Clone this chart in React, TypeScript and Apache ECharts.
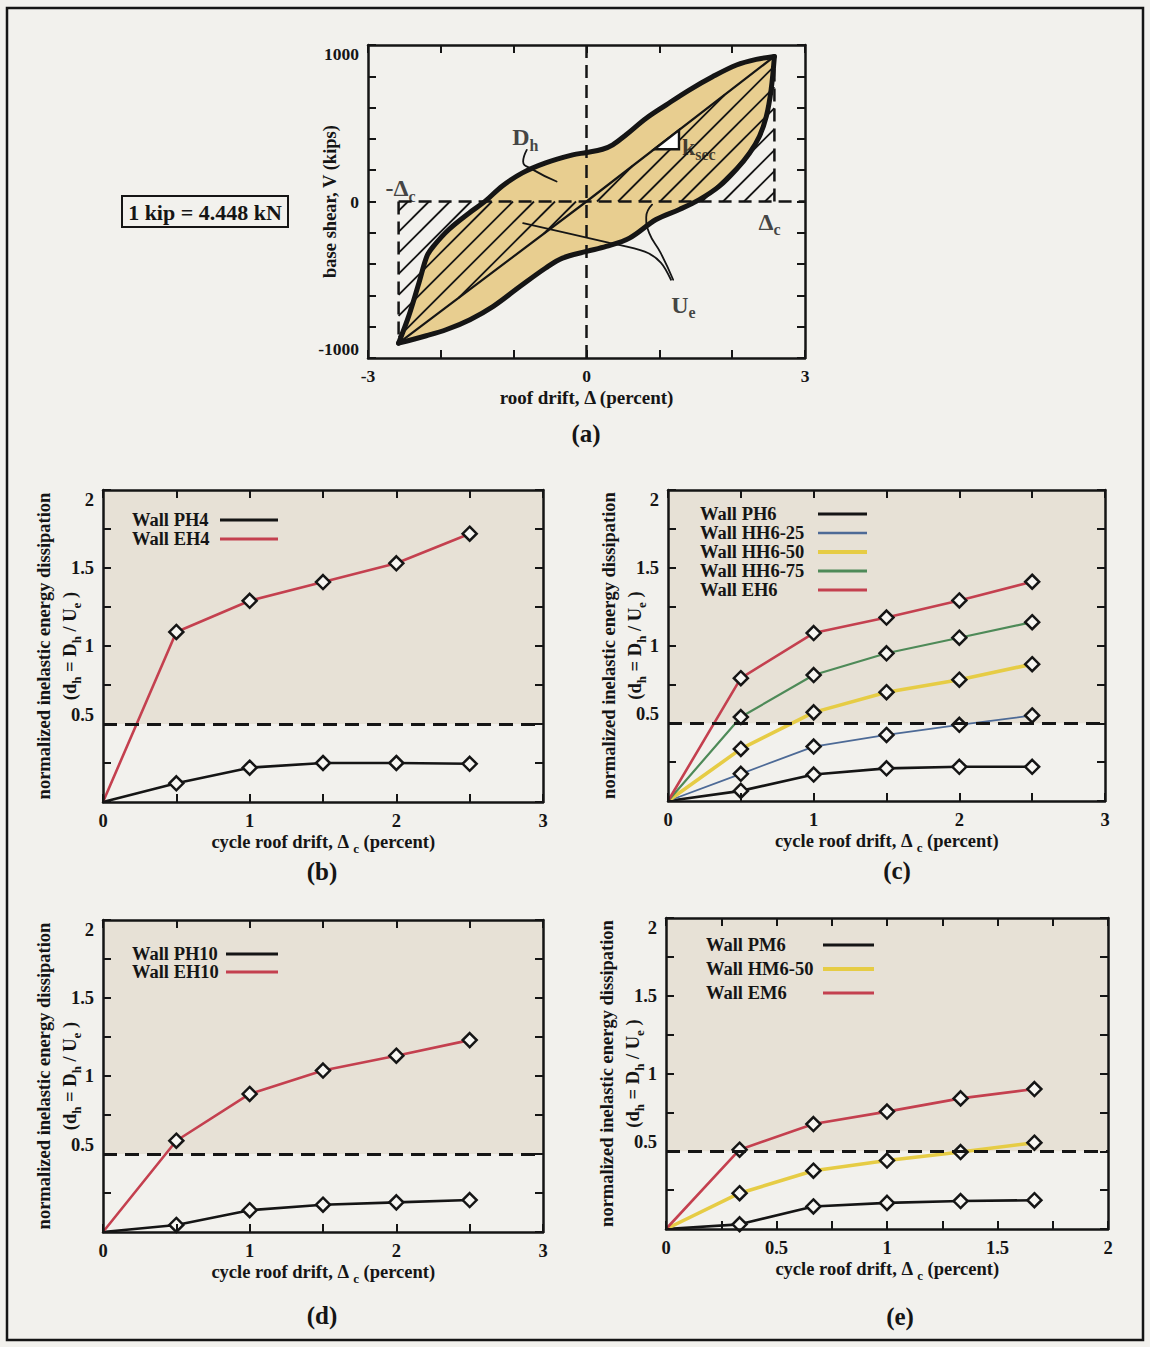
import React, { useEffect, useRef } from 'react';
import * as echarts from 'echarts';

const SERIF = '"Liberation Serif", "DejaVu Serif", serif';
const INK = '#151515';
const PAGE_BG = '#f2f1ed';
const BAND_BG = '#e7e1d6';
const LOOP_FILL = '#e8ce90';
const MARKER_FILL = '#f7f6f2';
const RED = '#c4404f';
const BLUE = '#4d6a96';
const YELLOW = '#e6cc45';
const GREEN = '#4e8a58';

// ---------- panel (a): idealised hysteresis loop (drift %, shear kips) ----------
const driftLabelsA = [-3, 0, 3];
const shearLabelsA = [-1000, 0, 1000];
const cycleDrift = 2.58;
const loopUpper: number[][] = [
  [-2.58, -905], [-2.44, -731], [-2.3, -519], [-2.19, -348], [-2.1, -285], [-1.89, -179],
  [-1.61, -73], [-1.39, 2], [-1.16, 98], [-0.88, 183], [-0.56, 247], [-0.19, 298], [0, 313],
  [0.22, 334], [0.36, 362], [0.54, 425], [0.82, 532], [1.09, 616], [1.41, 712], [1.73, 797],
  [2.06, 872], [2.33, 908], [2.58, 927],
];
const loopLower: number[][] = [
  [2.58, 927], [2.535, 715], [2.47, 545], [2.375, 417], [2.24, 310], [2.055, 204], [1.825, 98],
  [1.55, 12], [1.275, -51], [0.955, -115], [0.59, -234], [0.27, -287], [0, -319], [-0.33, -362],
  [-0.56, -425], [-0.91, -542], [-1.28, -670], [-1.6, -755], [-1.92, -818], [-2.2, -858], [-2.58, -905],
];
const dhLeader = [[-0.82, 330], [-0.87, 255], [-0.75, 207], [-0.41, 128]];
const ueLeaderLeft = [[1.16, -500], [1.02, -390], [0.8, -320], [0.3, -262], [-0.87, -138]];
const ueLeaderRight = [[1.19, -500], [1.02, -330], [0.86, -200], [0.82, -100], [0.9, -20]];
const secantStep = [[0.93, 334], [1.27, 334], [1.27, 456]];

// ---------- panels (b)-(e): normalized dissipation vs cycle drift ----------
const driftB = [0, 0.5, 1, 1.5, 2, 2.5];
const wallPH4 = [0, 0.12, 0.22, 0.25, 0.25, 0.245];
const wallEH4 = [0, 1.09, 1.29, 1.41, 1.53, 1.72];

const driftC = [0, 0.5, 1, 1.5, 2, 2.5];
const wallPH6 = [0, 0.065, 0.17, 0.21, 0.22, 0.22];
const wallHH6_25 = [0, 0.175, 0.35, 0.425, 0.49, 0.55];
const wallHH6_50 = [0, 0.335, 0.57, 0.7, 0.78, 0.88];
const wallHH6_75 = [0, 0.54, 0.81, 0.95, 1.05, 1.15];
const wallEH6 = [0, 0.79, 1.08, 1.18, 1.29, 1.41];

const driftD = [0, 0.5, 1, 1.5, 2, 2.5];
const wallPH10 = [0, 0.045, 0.14, 0.175, 0.19, 0.205];
const wallEH10 = [0, 0.585, 0.885, 1.035, 1.13, 1.23];

const driftE = [0, 0.333, 0.667, 1, 1.333, 1.667];
const wallPM6 = [0, 0.03, 0.145, 0.168, 0.18, 0.185];
const wallHM6_50 = [0, 0.23, 0.375, 0.44, 0.495, 0.555];
const wallEM6 = [0, 0.51, 0.675, 0.755, 0.84, 0.9];

const driftLabels3 = [0, 1, 2, 3];
const driftLabels2 = [0, 0.5, 1, 1.5, 2];
const ratioLabels = [0.5, 1, 1.5, 2];
const threshold = 0.5;

// ---------- layout ----------
const grids = [
  { left: 368, top: 45, width: 437, height: 313 },
  { left: 103, top: 490, width: 440, height: 312 },
  { left: 668, top: 490, width: 437, height: 311 },
  { left: 103, top: 920, width: 440, height: 312 },
  { left: 666, top: 918, width: 442, height: 311 },
];

function richFor(size: number, sub: number, lh: number) {
  return {
    t: { fontFamily: SERIF, fontWeight: 'bold', fontSize: size, color: INK, lineHeight: lh },
    s: { fontFamily: SERIF, fontWeight: 'bold', fontSize: sub, color: INK, lineHeight: sub, verticalAlign: 'bottom' },
  };
}
const richAxis = richFor(18.5, 13, 26);
const richBig = richFor(24, 16, 32);

const axisLine = { show: true, onZero: false, lineStyle: { color: INK, width: 2.5 } };
const tickStyle = { show: true, inside: true, length: 8, lineStyle: { color: INK, width: 2 } };

function tickValues(min: number, max: number, step: number) {
  const out: number[] = [];
  const n = Math.round((max - min) / step);
  for (let i = 0; i <= n; i++) out.push(Math.round((min + i * step) * 1e6) / 1e6);
  return out;
}

function labelFont(size: number) {
  return { fontFamily: SERIF, fontWeight: 'bold', fontSize: size, color: INK };
}

function xAxes(g: number, min: number, max: number, interval: number, labels: number[], name: string, gap: number, lblSize: number, nameSize: number) {
  const ticks = tickValues(min, max, interval);
  return [
    {
      type: 'value', gridIndex: g, min, max, interval, position: 'bottom', z: 20,
      axisLine, axisTick: { ...tickStyle, customValues: ticks }, splitLine: { show: false },
      axisLabel: { ...labelFont(lblSize), margin: 9, customValues: labels, formatter: (v: number) => String(v) },
      name, nameLocation: 'middle', nameGap: gap, nameMoveOverlap: false,
      nameTextStyle: { ...labelFont(nameSize), rich: richAxis },
    },
    {
      type: 'value', gridIndex: g, min, max, interval, position: 'top', z: 20,
      axisLine, axisTick: { ...tickStyle, customValues: ticks }, splitLine: { show: false }, axisLabel: { show: false },
    },
  ];
}

function yAxes(g: number, min: number, max: number, interval: number, labels: number[], name: string, gap: number, lblSize: number, nameSize: number) {
  const ticks = tickValues(min, max, interval);
  return [
    {
      type: 'value', gridIndex: g, min, max, interval, position: 'left', z: 20,
      axisLine, axisTick: { ...tickStyle, customValues: ticks }, splitLine: { show: false },
      axisLabel: {
        ...labelFont(lblSize), margin: 9, customValues: labels, formatter: (v: number) => String(v),
        verticalAlignMaxLabel: 'top', verticalAlignMinLabel: 'bottom',
      },
      name, nameLocation: 'middle', nameGap: gap, nameRotate: 90, nameMoveOverlap: false,
      nameTextStyle: { ...labelFont(nameSize), rich: richAxis },
    },
    {
      type: 'value', gridIndex: g, min, max, interval, position: 'right', z: 20,
      axisLine, axisTick: { ...tickStyle, customValues: ticks }, splitLine: { show: false }, axisLabel: { show: false },
    },
  ];
}

const ratioName =
  '{t|normalized inelastic energy dissipation}\n{t|(d}{s|h}{t| = D}{s|h}{t| / U}{s|e}{t| )}';
const cycleName = '{t|cycle roof drift, Δ }{s|c}{t| (percent)}';

type WallSpec = { name: string; values: number[]; color: string; width: number };

function wallSeries(g: number, drift: number[], w: WallSpec, withBand: boolean) {
  const s: any = {
    type: 'line', name: w.name, xAxisIndex: g * 2, yAxisIndex: g * 2,
    data: drift.map((x, i) => (i === 0 ? { value: [x, w.values[i]], symbol: 'none' } : [x, w.values[i]])),
    symbol: 'diamond', symbolSize: 14, showSymbol: true,
    lineStyle: { color: w.color, width: w.width },
    itemStyle: { color: MARKER_FILL, borderColor: INK, borderWidth: 2.5 },
    z: 3, silent: true,
  };
  if (withBand) {
    s.markArea = {
      silent: true, itemStyle: { color: BAND_BG },
      data: [[{ yAxis: threshold }, { yAxis: 2 }]],
    };
    s.markLine = {
      silent: true, symbol: 'none', label: { show: false },
      lineStyle: { color: INK, type: [14, 8], width: 3 },
      data: [{ yAxis: threshold }],
    };
  }
  return s;
}

const panelB: WallSpec[] = [
  { name: 'Wall PH4', values: wallPH4, color: INK, width: 2.6 },
  { name: 'Wall EH4', values: wallEH4, color: RED, width: 2.6 },
];
const panelC: WallSpec[] = [
  { name: 'Wall PH6', values: wallPH6, color: INK, width: 2.6 },
  { name: 'Wall HH6-25', values: wallHH6_25, color: BLUE, width: 1.8 },
  { name: 'Wall HH6-50', values: wallHH6_50, color: YELLOW, width: 3.6 },
  { name: 'Wall HH6-75', values: wallHH6_75, color: GREEN, width: 2.2 },
  { name: 'Wall EH6', values: wallEH6, color: RED, width: 2.6 },
];
const panelD: WallSpec[] = [
  { name: 'Wall PH10', values: wallPH10, color: INK, width: 2.6 },
  { name: 'Wall EH10', values: wallEH10, color: RED, width: 2.6 },
];
const panelE: WallSpec[] = [
  { name: 'Wall PM6', values: wallPM6, color: INK, width: 2.6 },
  { name: 'Wall HM6-50', values: wallHM6_50, color: YELLOW, width: 3.6 },
  { name: 'Wall EM6', values: wallEM6, color: RED, width: 2.6 },
];

function legendGraphics(specs: WallSpec[], x0: number, lx1: number, lx2: number, y0: number, gap: number) {
  const out: any[] = [];
  specs.forEach((w, i) => {
    const y = y0 + i * gap;
    out.push({
      type: 'text', x: x0, y, silent: true, z: 100,
      style: {
        text: w.name, fill: INK, font: `bold 18.5px ${SERIF}`,
        textAlign: 'left', textVerticalAlign: 'middle', align: 'left', verticalAlign: 'middle',
      },
    });
    out.push({
      type: 'line', silent: true, z: 100,
      shape: { x1: lx1, y1: y, x2: lx2, y2: y },
      style: { stroke: w.color, lineWidth: w.width + 0.6 },
    });
  });
  return out;
}

function textAt(text: string, x: number, y: number, size: number) {
  return {
    type: 'text', x, y, silent: true, z: 100,
    style: {
      text, fill: INK, font: `bold ${size}px ${SERIF}`,
      textAlign: 'center', textVerticalAlign: 'middle', align: 'center', verticalAlign: 'middle',
    },
  };
}

// clip one "/" hatch line (px + py = c) against a convex pixel polygon
function clipHatch(poly: number[][], c: number): number[][] | null {
  const hits: number[][] = [];
  for (let i = 0; i < poly.length; i++) {
    const a = poly[i];
    const b = poly[(i + 1) % poly.length];
    const fa = a[0] + a[1] - c;
    const fb = b[0] + b[1] - c;
    if ((fa <= 0 && fb >= 0) || (fa >= 0 && fb <= 0)) {
      if (fa === fb) continue;
      const t = fa / (fa - fb);
      hits.push([a[0] + t * (b[0] - a[0]), a[1] + t * (b[1] - a[1])]);
    }
  }
  if (hits.length < 2) return null;
  hits.sort((p, q) => p[0] - q[0]);
  const p = hits[0];
  const q = hits[hits.length - 1];
  if (Math.hypot(q[0] - p[0], q[1] - p[1]) < 3) return null;
  return [p, q];
}

function buildOption() {
  const tipNeg = loopUpper[0];
  const tipPos = loopUpper[loopUpper.length - 1];
  const hatchTriangles = [
    [[0, 0], [-cycleDrift, 0], [-cycleDrift, tipNeg[1]]],
    [[0, 0], [cycleDrift, 0], [cycleDrift, tipPos[1]]],
  ];

  const dashed = (data: number[][]) => ({
    type: 'line', xAxisIndex: 0, yAxisIndex: 0, data, symbol: 'none', silent: true, z: 4,
    lineStyle: { color: INK, width: 2.5, type: [13, 7] },
  });
  const solid = (data: number[][], width: number, z: number, smooth: number | boolean = false) => ({
    type: 'line', xAxisIndex: 0, yAxisIndex: 0, data, symbol: 'none', silent: true, z, smooth,
    lineStyle: { color: INK, width, cap: 'round', join: 'round' },
  });

  const annotationsA = [
    { text: '{t|D}{s|h}', x: -0.84, y: 410, align: 'center' },
    { text: '{t|k}{s|sec}', x: 1.31, y: 350, align: 'left' },
    { text: '{t|-Δ}{s|c}', x: -2.76, y: 85, align: 'left' },
    { text: '{t|Δ}{s|c}', x: 2.36, y: -130, align: 'left' },
    { text: '{t|U}{s|e}', x: 1.33, y: -660, align: 'center' },
  ];

  const seriesA: any[] = [
    {
      type: 'custom', xAxisIndex: 0, yAxisIndex: 0, z: 1, silent: true, data: [[0, 0]],
      renderItem: (_p: any, api: any) => ({
        type: 'polygon',
        shape: { points: loopUpper.concat(loopLower.slice(1)).map((pt) => api.coord(pt)) },
        style: { fill: LOOP_FILL, stroke: 'none' },
      }),
    },
    {
      type: 'custom', xAxisIndex: 0, yAxisIndex: 0, z: 2, silent: true, data: [[0, 0], [0, 0]],
      renderItem: (params: any, api: any) => {
        const poly = hatchTriangles[params.dataIndex].map((pt) => api.coord(pt));
        const sums = poly.map((p: number[]) => p[0] + p[1]);
        const c0 = poly[0][0] + poly[0][1];
        const lo = Math.min(...sums);
        const hi = Math.max(...sums);
        const step = 21;
        const children: any[] = [];
        const kStart = Math.ceil((lo - c0) / step - 0.5);
        for (let k = kStart; c0 + (k + 0.5) * step <= hi; k++) {
          const seg = clipHatch(poly, c0 + (k + 0.5) * step);
          if (seg) {
            children.push({
              type: 'line',
              shape: { x1: seg[0][0], y1: seg[0][1], x2: seg[1][0], y2: seg[1][1] },
              style: { stroke: INK, lineWidth: 1.8 },
            });
          }
        }
        return { type: 'group', children };
      },
    },
    dashed([[0, -1000], [0, 1000]]),
    dashed([[-cycleDrift, 0], [3, 0]]),
    dashed([[-cycleDrift, 0], [-cycleDrift, tipNeg[1]]]),
    dashed([[cycleDrift, 0], [cycleDrift, tipPos[1]]]),
    solid([tipNeg, [0, 0], tipPos], 2.2, 5),
    solid(loopUpper, 5, 6, 0.35),
    solid(loopLower, 5, 6, 0.35),
    solid(dhLeader, 1.8, 6, 0.5),
    solid(ueLeaderLeft, 1.8, 6, 0.3),
    solid(ueLeaderRight, 1.8, 6, 0.5),
    {
      type: 'custom', xAxisIndex: 0, yAxisIndex: 0, z: 7, silent: true, data: [[0, 0]],
      renderItem: (_p: any, api: any) => ({
        type: 'polygon',
        shape: { points: secantStep.map((pt) => api.coord(pt)) },
        style: { fill: '#ffffff', stroke: INK, lineWidth: 2.4 },
      }),
    },
    {
      type: 'scatter', xAxisIndex: 0, yAxisIndex: 0, z: 8, silent: true, symbolSize: 1,
      itemStyle: { color: 'rgba(0,0,0,0)' },
      label: { show: true, position: 'inside', rich: richBig, color: INK },
      data: annotationsA.map((a) => ({
        value: [a.x, a.y],
        label: { formatter: a.text, align: a.align, verticalAlign: 'middle' },
      })),
    },
  ];

  const wallGroups: [number, number[], WallSpec[]][] = [
    [1, driftB, panelB],
    [2, driftC, panelC],
    [3, driftD, panelD],
    [4, driftE, panelE],
  ];
  const seriesWalls: any[] = [];
  wallGroups.forEach(([g, drift, specs]) => {
    specs.forEach((w, i) => seriesWalls.push(wallSeries(g, drift, w, i === 0)));
  });

  const xAxis = [
    ...xAxes(0, -3, 3, 1, driftLabelsA, 'roof drift, Δ (percent)', 30, 17.5, 19),
    ...xAxes(1, 0, 3, 0.5, driftLabels3, cycleName, 27, 18.5, 18.5),
    ...xAxes(2, 0, 3, 0.5, driftLabels3, cycleName, 27, 18.5, 18.5),
    ...xAxes(3, 0, 3, 0.5, driftLabels3, cycleName, 27, 18.5, 18.5),
    ...xAxes(4, 0, 2, 0.25, driftLabels2, cycleName, 27, 18.5, 18.5),
  ];
  const yAxis = [
    ...yAxes(0, -1000, 1000, 200, shearLabelsA, 'base shear, V (kips)', 29, 17.5, 18.5),
    ...yAxes(1, 0, 2, 0.25, ratioLabels, ratioName, 20, 18.5, 18.5),
    ...yAxes(2, 0, 2, 0.25, ratioLabels, ratioName, 20, 18.5, 18.5),
    ...yAxes(3, 0, 2, 0.25, ratioLabels, ratioName, 20, 18.5, 18.5),
    ...yAxes(4, 0, 2, 0.25, ratioLabels, ratioName, 20, 18.5, 18.5),
  ];

  const graphic: any[] = [
    {
      type: 'rect', silent: true, z: 100,
      shape: { x: 7, y: 8, width: 1136, height: 1332 },
      style: { fill: 'none', stroke: INK, lineWidth: 2.5 },
    },
    {
      type: 'rect', silent: true, z: 100,
      shape: { x: 122, y: 196, width: 166, height: 31 },
      style: { fill: 'none', stroke: INK, lineWidth: 2 },
    },
    textAt('1 kip = 4.448 kN', 205, 212, 22),
    textAt('(a)', 586, 433, 25),
    textAt('(b)', 322, 871, 25),
    textAt('(c)', 897, 870, 25),
    textAt('(d)', 322, 1315, 25),
    textAt('(e)', 900, 1316, 25),
    ...legendGraphics(panelB, 132, 220, 278, 520, 19),
    ...legendGraphics(panelC, 700, 818, 867, 514, 19),
    ...legendGraphics(panelD, 132, 226, 278, 954, 18),
    ...legendGraphics(panelE, 706, 823, 874, 945, 24),
  ];

  return {
    animation: false,
    backgroundColor: PAGE_BG,
    grid: grids.map((g) => ({ ...g, containLabel: false, outerBoundsMode: 'none' })),
    xAxis,
    yAxis,
    series: [...seriesA, ...seriesWalls],
    graphic,
  };
}

export default function App() {
  const ref = useRef<HTMLDivElement>(null);
  useEffect(() => {
    if (!ref.current) return;
    const chart = echarts.init(ref.current, null, { renderer: 'svg' });
    chart.setOption(buildOption() as any);
    return () => chart.dispose();
  }, []);
  return (
    <div
      ref={ref}
      style={{ position: 'absolute', left: 0, top: 0, width: 1150, height: 1347 }}
    />
  );
}
